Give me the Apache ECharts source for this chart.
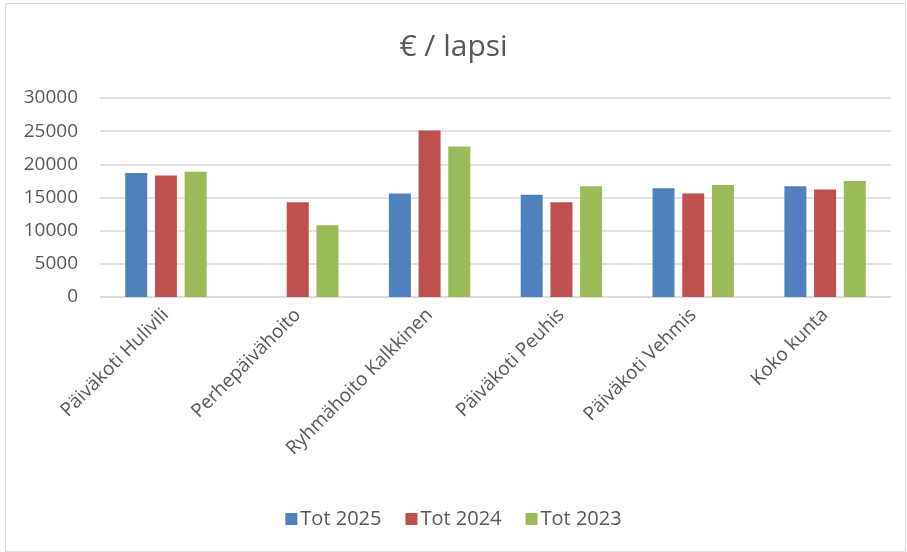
<!DOCTYPE html>
<html>
<head>
<meta charset="utf-8">
<script src="https://cdn.jsdelivr.net/npm/echarts@6/dist/echarts.min.js"></script>
<style>
html,body{margin:0;padding:0;background:#fff;}
#c{width:907px;height:552px;}
</style>
</head>
<body>
<div id="c"></div>
<script>
const categories = ["Päiväkoti Hulivili", "Perhepäivähoito", "Ryhmähoito Kalkkinen", "Päiväkoti Peuhis", "Päiväkoti Vehmis", "Koko kunta"];
const tot2025 = [18700, null, 15600, 15400, 16400, 16700];
const tot2024 = [18300, 14300, 25100, 14300, 15600, 16200];
const tot2023 = [18900, 10800, 22700, 16700, 16900, 17500];
const yTicks = [0, 5000, 10000, 15000, 20000, 25000, 30000];

const font = "Open Sans";
const txt = "#595959";
const chart = echarts.init(document.getElementById('c'));
chart.setOption({
  animation: false,
  backgroundColor: '#fff',
  title: {
    text: '€ / lapsi', left: 'center', top: 27,
    textStyle: {fontFamily: font, fontSize: 30, fontWeight: 'normal', color: txt}
  },
  graphic: [{
    type: 'rect', left: 3, top: 1,
    shape: {width: 900, height: 548},
    style: {fill: 'none', stroke: '#d9d9d9', lineWidth: 1}
  }],
  legend: {
    bottom: 18, left: 'center', itemWidth: 12, itemHeight: 12, itemGap: 24,
    icon: 'rect',
    textStyle: {fontFamily: font, fontSize: 20, color: txt, padding: [0, 0, 0, -2]}
  },
  grid: {left: 100, right: 16, top: 98, bottom: 255, containLabel: false},
  xAxis: {
    type: 'category', data: categories,
    axisTick: {show: false},
    axisLine: {lineStyle: {color: '#d9d9d9', width: 1.5}},
    axisLabel: {rotate: 45, interval: 0, fontFamily: font, fontSize: 19, color: txt, margin: 15}
  },
  yAxis: {
    type: 'value', min: yTicks[0], max: yTicks[yTicks.length-1], interval: 5000,
    axisLine: {show: false}, axisTick: {show: false},
    splitLine: {lineStyle: {color: '#d9d9d9', width: 1.5}},
    axisLabel: {fontFamily: font, fontSize: 19, color: txt, margin: 22, formatter: v => String(v)}
  },
  series: [
    {name: 'Tot 2025', type: 'bar', data: tot2025, itemStyle: {color: '#4f81bd'}, barWidth: 22, barGap: '35%'},
    {name: 'Tot 2024', type: 'bar', data: tot2024, itemStyle: {color: '#c0504d'}, barWidth: 22, barGap: '35%'},
    {name: 'Tot 2023', type: 'bar', data: tot2023, itemStyle: {color: '#9bbb59'}, barWidth: 22, barGap: '35%'}
  ]
});
</script>
</body>
</html>
